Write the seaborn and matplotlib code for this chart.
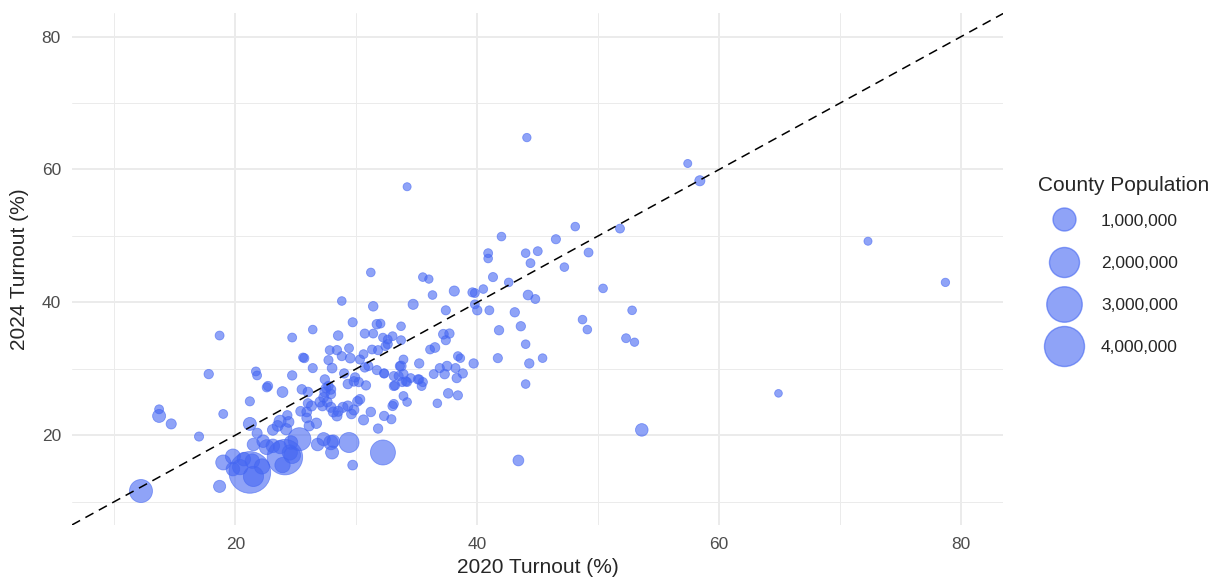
import numpy as np
import pandas as pd
import matplotlib
matplotlib.use("Agg")
import matplotlib.pyplot as plt
from matplotlib.lines import Line2D
from matplotlib.ticker import MultipleLocator
import seaborn as sns

# County turnout (%) in 2020 and 2024, with county population (thousands)
turnout_2020 = [
    44.1, 57.4, 58.4, 34.2, 72.3, 78.7, 64.9, 53.6, 43.4, 32.2, 12.2, 18.7,
    48.1, 51.8, 42.0, 46.5, 40.9, 40.9, 44.0, 45.0, 49.2, 44.4, 47.2, 41.3,
    42.6, 35.5, 36.0, 36.3, 38.1, 39.6, 39.8, 40.5, 44.2, 44.8, 50.4, 34.7,
    39.8, 40.0, 37.4, 41.0, 43.1, 52.8, 48.7, 49.1, 41.8, 43.6, 52.3, 53.0,
    44.0, 33.7, 37.2, 37.7, 37.4, 41.7, 45.4, 44.3, 39.7, 44.0, 38.4, 38.6,
    35.2, 36.5, 36.1, 33.7, 37.5, 36.9, 38.2, 38.8, 38.3, 37.3, 36.4, 35.2,
    35.5, 35.4, 33.9, 33.1, 33.2, 33.8, 32.3, 34.5, 34.2, 37.6, 38.4, 33.9,
    32.0, 32.2, 32.6, 33.0, 36.7, 34.2,
    31.2, 28.8, 31.4, 29.7, 31.7, 26.4, 24.7, 28.5, 30.7, 31.4, 32.6, 33.7,
    32.4, 31.8, 31.3, 27.8, 28.4, 29.4, 28.8, 29.5, 25.7, 27.7, 30.3, 30.6,
    26.4, 28.0, 30.7, 31.0, 31.7, 33.9, 33.6, 21.7, 21.8, 24.7, 27.4, 29.0,
    29.9, 29.8, 30.2, 29.3, 30.8, 32.3, 33.1, 33.5, 22.7, 23.9, 25.5, 27.5,
    27.9, 34.1, 35.1, 25.6,
    17.0, 19.0, 21.2, 21.8, 23.1, 23.7, 24.4, 24.2, 23.5, 24.3, 25.4,
    25.9, 25.9, 26.3, 26.0, 26.7, 26.1, 24.6, 26.8, 27.3, 27.9, 28.1,
    28.0, 29.4, 29.7, 31.8, 30.6, 31.2, 32.3, 32.9, 33.0, 33.1, 29.6, 29.8,
    29.3, 30.1, 30.3, 28.1, 28.4, 27.9, 27.2, 27.6, 28.5, 28.9, 27.0, 27.3,
    27.4, 27.9, 27.7, 26.0, 19.8, 19.0, 20.4, 19.8, 21.4, 20.7, 22.2,
    24.5, 23.1, 23.7, 22.6, 21.5, 22.3, 24.7, 23.9, 25.3, 21.2, 24.1, 21.2, 21.5,
    17.8, 22.6, 13.7, 13.7, 14.7, 18.7,
]
turnout_2024 = [
    64.8, 60.9, 58.3, 57.4, 49.2, 43.0, 26.3, 20.8, 16.2, 17.4, 11.6, 12.3,
    51.4, 51.1, 49.9, 49.5, 47.4, 46.6, 47.4, 47.7, 47.5, 45.9, 45.3, 43.8,
    43.0, 43.8, 43.5, 41.1, 41.7, 41.5, 41.4, 42.0, 41.1, 40.5, 42.1, 39.7,
    39.7, 38.8, 38.8, 38.8, 38.5, 38.8, 37.4, 35.9, 35.8, 36.4, 34.6, 34.0,
    33.7, 36.4, 35.2, 35.3, 34.3, 31.6, 31.6, 30.8, 30.8, 27.7, 31.9, 31.6,
    30.8, 33.2, 32.9, 30.4, 30.4, 30.1, 30.1, 29.3, 28.6, 29.2, 29.2, 28.4,
    28.0, 27.4, 29.2, 28.9, 27.5, 28.0, 29.3, 28.6, 28.0, 26.3, 26.0, 25.9,
    36.8, 34.7, 33.7, 34.9, 24.8, 25.0,
    44.5, 40.2, 39.4, 37.0, 36.7, 35.9, 34.7, 35.0, 35.3, 35.3, 34.4, 34.3,
    33.4, 32.8, 32.9, 32.8, 32.8, 33.1, 31.9, 31.6, 31.6, 31.3, 31.4, 32.2,
    30.1, 30.1, 30.2, 30.4, 29.8, 31.4, 30.4, 29.6, 29.0, 29.0, 28.4, 29.3,
    28.7, 28.1, 28.0, 27.7, 27.5, 29.3, 27.4, 28.9, 27.4, 26.5, 26.9, 27.1,
    26.2, 28.1, 28.4, 31.7,
    19.8, 23.2, 25.1, 20.3, 20.8, 22.1, 22.0, 20.9, 21.4, 23.0, 23.6,
    23.5, 22.6, 24.4, 24.8, 21.8, 21.4, 18.9, 18.6, 19.4, 18.9, 19.1,
    17.4, 18.9, 15.5, 21.0, 22.3, 23.5, 22.9, 22.4, 24.4, 24.7, 23.2, 23.8,
    24.4, 25.1, 25.4, 23.5, 22.9, 24.2, 24.4, 25.0, 23.6, 24.2, 25.0, 25.7,
    26.5, 26.9, 27.4, 26.5, 16.8, 15.9, 15.2, 14.9, 16.1, 16.4, 15.3,
    17.4, 18.4, 18.2, 18.2, 18.6, 19.1, 17.0, 15.5, 19.4, 21.7, 16.7, 14.4, 13.8,
    29.2, 27.2, 23.9, 22.9, 21.7, 35.0,
]
population_k = [
    20, 15, 60, 15, 15, 20, 10, 150, 80, 1250, 1000, 130,
    25, 30, 25, 35, 30, 25, 25, 30, 30, 30, 25, 35,
    25, 25, 20, 25, 60, 35, 30, 25, 50, 30, 25, 60,
    30, 40, 35, 30, 40, 25, 25, 25, 40, 40, 30, 20,
    25, 25, 50, 40, 35, 35, 25, 40, 40, 25, 30, 25,
    40, 50, 30, 60, 50, 35, 35, 40, 40, 45, 30, 35,
    35, 30, 40, 35, 40, 35, 25, 30, 30, 45, 35, 30,
    30, 25, 35, 30, 25, 25,
    25, 25, 45, 35, 45, 25, 30, 45, 35, 30, 30, 30,
    30, 35, 30, 30, 40, 30, 35, 50, 35, 35, 35, 30,
    35, 50, 40, 35, 35, 30, 35, 30, 30, 40, 40, 40,
    40, 45, 40, 45, 40, 40, 35, 35, 40, 80, 45, 45,
    45, 35, 40, 30,
    35, 30, 35, 60, 80, 130, 80, 100, 80, 40, 50,
    50, 50, 60, 40, 70, 60, 200, 150, 180, 250, 150,
    170, 680, 50, 40, 60, 45, 40, 35, 40, 35, 50, 60,
    60, 50, 50, 60, 60, 60, 50, 50, 60, 60, 60, 50,
    60, 50, 45, 50, 280, 280, 300, 200, 250, 200, 300,
    300, 200, 180, 280, 150, 150, 400, 300, 1000, 170, 3000, 4400, 700,
    40, 35, 30, 170, 60, 30,
]

legend_pops = [1_000_000, 2_000_000, 3_000_000, 4_000_000]
legend_labels = ["1,000,000", "2,000,000", "3,000,000", "4,000,000"]

df = pd.DataFrame({
    "turnout_2020": turnout_2020,
    "turnout_2024": turnout_2024,
    "population": np.array(population_k) * 1000,
})

point_color = "#4466F2"


def marker_area(pop):
    # ggplot-like area scale: diameter grows with sqrt of population
    d_px = 6 + 17 * np.sqrt(np.asarray(pop) / 1e6)
    return (d_px * 0.72) ** 2


sns.set_theme(style="white")
plt.rcParams["font.family"] = ["Liberation Sans", "DejaVu Sans"]

fig, ax = plt.subplots(figsize=(12.29, 5.8), dpi=100)
fig.subplots_adjust(left=0.0586, right=0.8165, top=0.977, bottom=0.095)

sns.scatterplot(data=df, x="turnout_2020", y="turnout_2024",
                s=marker_area(df["population"]), color=point_color, alpha=0.6,
                edgecolor=point_color, linewidth=0.6, ax=ax, zorder=3)

ax.axline((0, 0), slope=1, color="black", linestyle=(0, (6, 4)), linewidth=1.1, zorder=4)

ax.set_xlim(6.5, 83.5)
ax.set_ylim(6.5, 83.5)
ax.xaxis.set_major_locator(MultipleLocator(20))
ax.yaxis.set_major_locator(MultipleLocator(20))
ax.xaxis.set_minor_locator(MultipleLocator(10))
ax.yaxis.set_minor_locator(MultipleLocator(10))
ax.grid(which="major", color="#EBEBEB", linewidth=1.4)
ax.grid(which="minor", color="#EBEBEB", linewidth=0.7)
ax.set_axisbelow(True)
for sp in ax.spines.values():
    sp.set_visible(False)
ax.tick_params(which="both", length=0, labelsize=12.5, labelcolor="#4D4D4D")
ax.tick_params(axis="y", pad=8)
ax.tick_params(axis="x", pad=9)

ax.set_xlabel("2020 Turnout (%)", fontsize=15, labelpad=4)
ax.set_ylabel("2024 Turnout (%)", fontsize=15, labelpad=9)

handles = [Line2D([], [], linestyle="none", marker="o", markersize=np.sqrt(marker_area(p)),
                  markerfacecolor=point_color, markeredgecolor=point_color,
                  alpha=0.6) for p in legend_pops]
leg = ax.legend(handles, legend_labels, title="County Population",
                loc="upper left", bbox_to_anchor=(1.03, 0.695), frameon=False,
                fontsize=12.5, title_fontsize=15, labelspacing=1.55,
                handlelength=3.0, handletextpad=0.6, borderaxespad=0)
leg._legend_box.align = "left"
leg._legend_box.sep = 13  # tighter gap between title and first key

fig.savefig("out.png", dpi=100)
